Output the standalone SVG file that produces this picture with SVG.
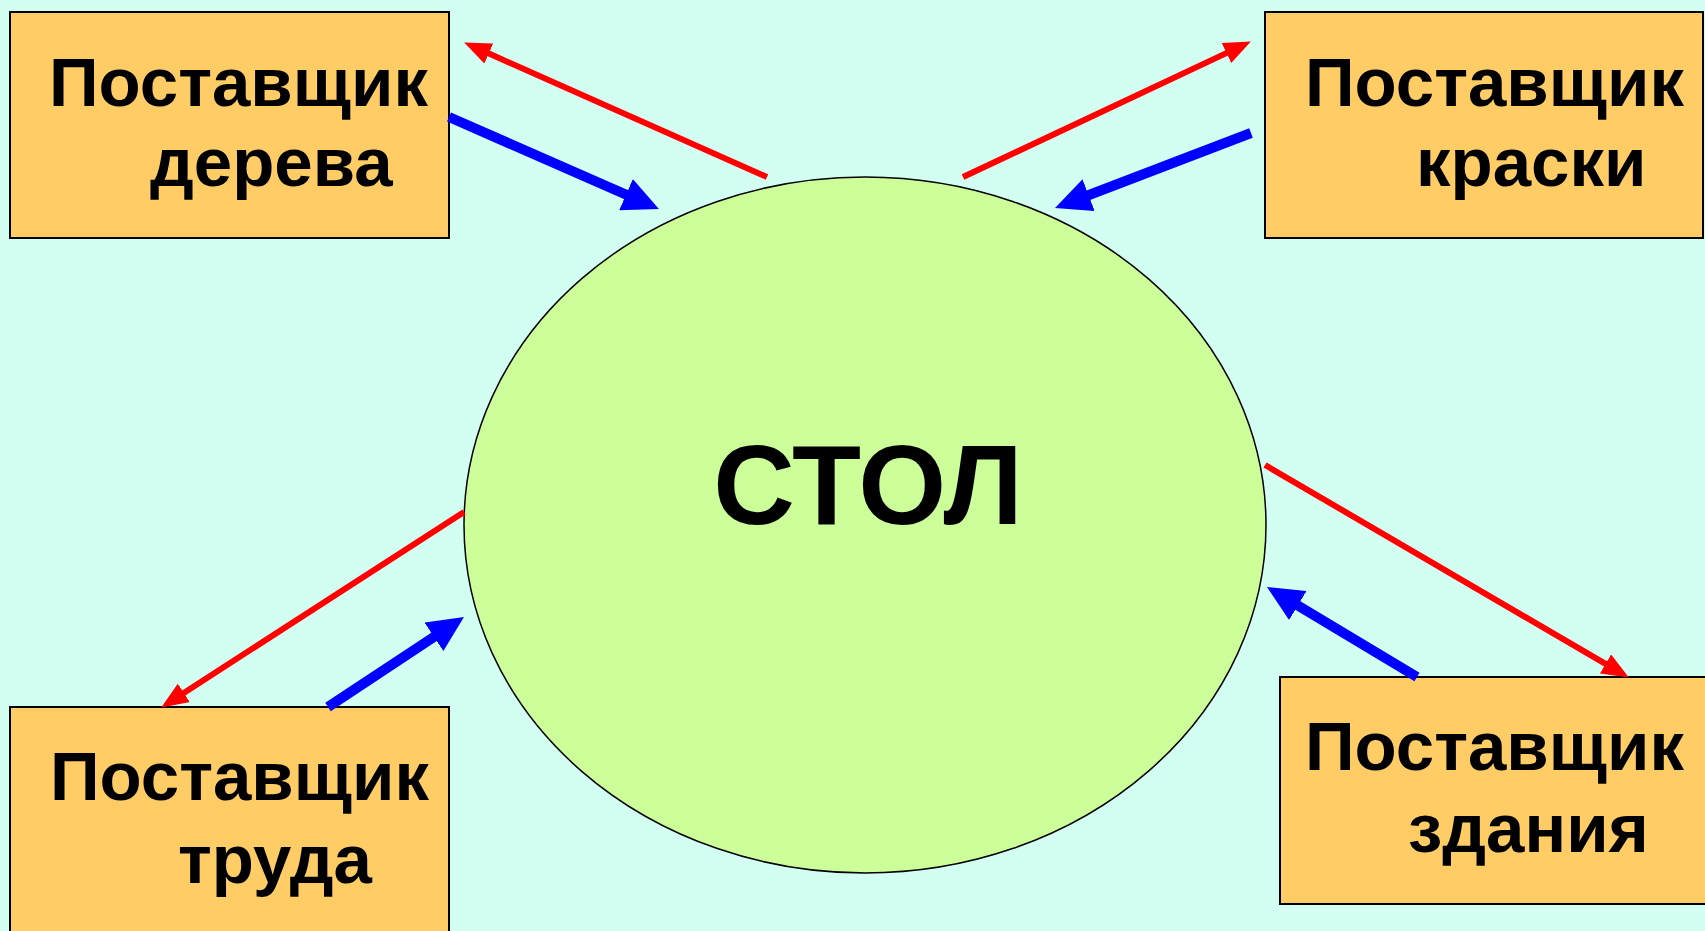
<svg xmlns="http://www.w3.org/2000/svg" width="1705" height="931" viewBox="0 0 1705 931">
<style>
.box{fill:#FFCC66;stroke:#000;stroke-width:2}
.lbl{font-family:"Liberation Sans",Arial,sans-serif;font-weight:bold;font-size:69px;fill:#000}
.red{stroke:#FF0000;stroke-width:6;fill:none;marker-end:url(#hr)}
.blue{stroke:#0000FF;stroke-width:10;fill:none;marker-end:url(#hb)}
</style>
<defs>
<marker id="hr" markerUnits="userSpaceOnUse" markerWidth="27" markerHeight="22" refX="1" refY="11" orient="auto" viewBox="0 0 27 22">
<path d="M0,0 L27,11 L0,22 Z" fill="#FF0000"/>
</marker>
<marker id="hb" markerUnits="userSpaceOnUse" markerWidth="36" markerHeight="34" refX="1" refY="17" orient="auto" viewBox="0 0 36 34">
<path d="M0,0 L36,17 L0,34 Z" fill="#0000FF"/>
</marker>
</defs>
<rect x="0" y="0" width="1705" height="931" fill="#D3FFF3"/>
<g id="table">
<ellipse cx="865" cy="525" rx="401" ry="348" fill="#CCFF99" stroke="#000" stroke-width="1.5"/>
<text x="868" y="524" text-anchor="middle" font-family="'Liberation Sans',Arial,sans-serif" font-weight="bold" font-size="113">СТОЛ</text>
</g>
<g id="wood">
<rect class="box" x="10" y="12" width="439" height="226"/>
<text class="lbl" x="49" y="106">Поставщик</text>
<text class="lbl" x="150" y="186">дерева</text>
</g>
<g id="paint">
<rect class="box" x="1265" y="12" width="438" height="226"/>
<text class="lbl" x="1305" y="106">Поставщик</text>
<text class="lbl" x="1416" y="186">краски</text>
</g>
<g id="labor">
<rect class="box" x="10" y="707" width="439" height="240"/>
<text class="lbl" x="50" y="800">Поставщик</text>
<text class="lbl" x="178" y="883">труда</text>
</g>
<g id="building">
<rect class="box" x="1280" y="677" width="440" height="227"/>
<text class="lbl" x="1305" y="770">Поставщик</text>
<text class="lbl" x="1408" y="852">здания</text>
</g>
<g id="connectors">
<line class="red" x1="767" y1="177" x2="487.9" y2="53.1"/>
<line class="blue" x1="449" y1="117" x2="626.9" y2="195"/>
<line class="red" x1="963" y1="177" x2="1227.4" y2="52.6"/>
<line class="blue" x1="1251" y1="133" x2="1087.7" y2="195.5"/>
<line class="red" x1="464" y1="512" x2="183" y2="693.4"/>
<line class="blue" x1="328" y1="707" x2="434.8" y2="636.3"/>
<line class="red" x1="1265" y1="465" x2="1606.4" y2="664.4"/>
<line class="blue" x1="1417" y1="677" x2="1297" y2="605"/>
</g>
</svg>
